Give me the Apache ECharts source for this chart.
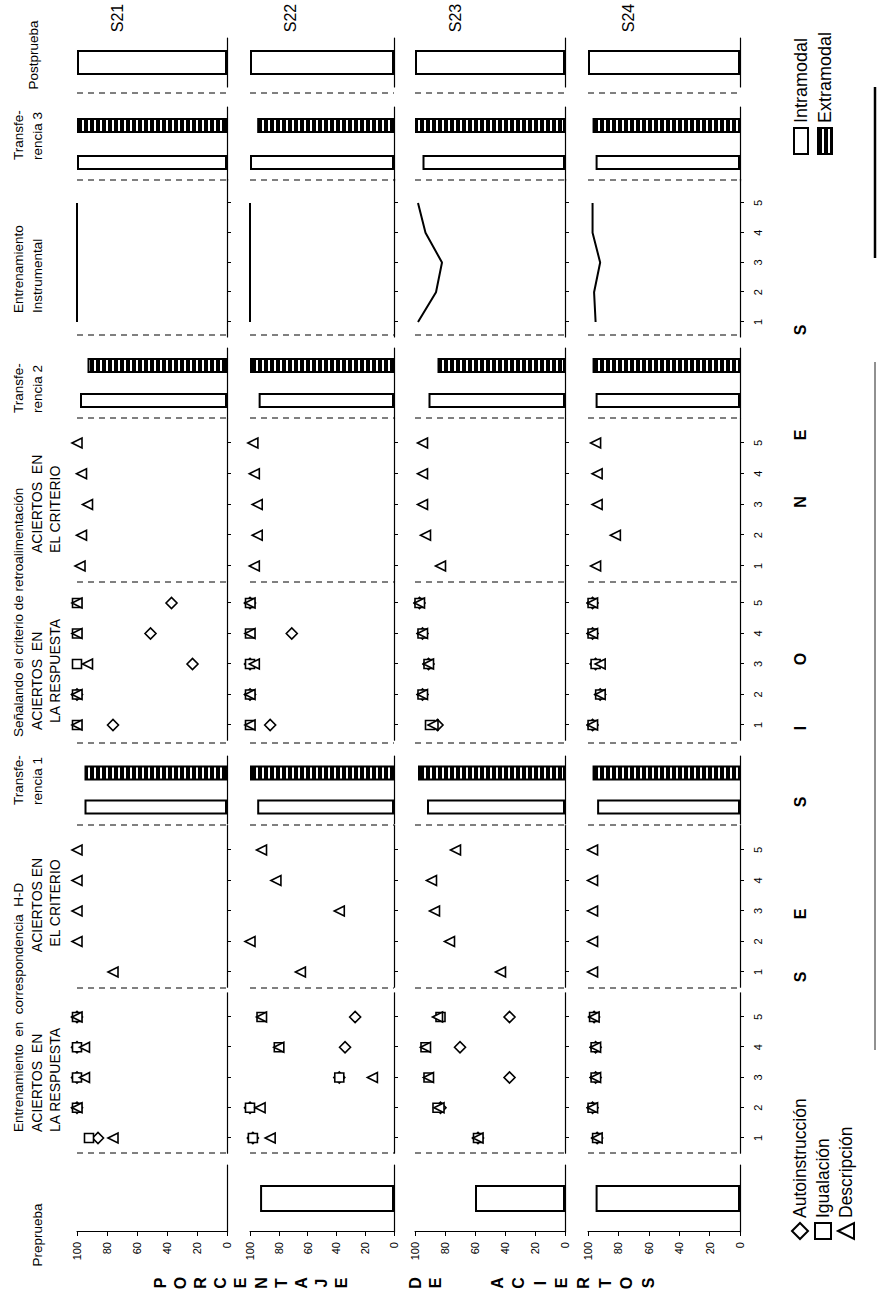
<!DOCTYPE html>
<html><head><meta charset="utf-8">
<script src="https://cdn.jsdelivr.net/npm/echarts@6/dist/echarts.min.js"></script>
<style>
html,body{margin:0;padding:0;background:#fff;overflow:hidden;width:877px;height:1299px}
#c{position:absolute;left:0;top:0;width:1299px;height:877px;transform-origin:0 0;transform:translate(0,1299px) rotate(-90deg);}
</style></head><body><div id="c"></div>
<script>
// ---------------- DATA ----------------
const subjects = ['S21', 'S22', 'S23', 'S24'];
const sessions = [1, 2, 3, 4, 5];
const yTicks = [0, 20, 40, 60, 80, 100];
const seriesNames = ['Autoinstrucción', 'Igualación', 'Descripción'];
const barNames = ['Intramodal', 'Extramodal'];

const preprueba = [0, 93, 60, 95];
const postprueba = [100, 100, 100, 100];
const transf1Intra = [95, 95, 92, 94];
const transf1Extra = [95, 100, 98, 97];
const transf2Intra = [98, 94, 91, 95];
const transf2Extra = [93, 100, 85, 97];
const transf3Intra = [100, 100, 95, 95];
const transf3Extra = [100, 95, 100, 97];

// Entrenamiento en correspondencia H-D, aciertos en la respuesta
const hdRespAuto = [[86, 100, 100, 100, 100], [98, 100, 38, 34, 27], [58, 83, 37, 70, 37], [94, 97, 95, 95, 96]];
const hdRespIgual = [[92, 100, 100, 100, 100], [98, 100, 38, 80, 92], [58, 85, 91, 93, 83], [94, 97, 95, 95, 96]];
const hdRespDesc = [[76, 100, 95, 95, 100], [86, 93, 15, 80, 92], [58, 84, 91, 93, 85], [94, 97, 95, 95, 96]];
// Entrenamiento en correspondencia H-D, aciertos en el criterio
const hdCritDesc = [[76, 100, 100, 100, 100], [65, 100, 38, 82, 92], [43, 77, 87, 89, 73], [97, 97, 97, 97, 97]];
// Señalando el criterio de retroalimentación, aciertos en la respuesta
const scRespAuto = [[76, 100, 23, 51, 37], [86, 100, 100, 71, 100], [85, 95, 91, 95, 97], [97, 92, 95, 97, 97]];
const scRespIgual = [[100, 100, 100, 100, 100], [100, 100, 100, 100, 100], [90, 95, 91, 95, 97], [97, 92, 95, 97, 97]];
const scRespDesc = [[100, 100, 93, 100, 100], [100, 100, 97, 100, 100], [88, 95, 91, 95, 97], [97, 92, 92, 97, 97]];
// Señalando el criterio, aciertos en el criterio
const scCritDesc = [[98, 97, 93, 97, 100], [97, 95, 95, 97, 98], [83, 93, 95, 95, 95], [95, 82, 94, 94, 95]];
// Entrenamiento instrumental
const instrumental = [[100, 100, 100, 100, 100], [100, 100, 100, 100, 100], [98, 86, 82, 93, 98], [95, 96, 92, 97, 97]];

const sesionesLetters = ['S', 'E', 'S', 'I', 'O', 'N', 'E', 'S'];
const yNameWords = ['PORCENTAJE', 'DE', 'ACIERTOS'];

// ---------------- LAYOUT (chart drawn landscape, page rotated) ----------------
const FONT = '"Liberation Sans", Arial, Helvetica, sans-serif';
const rowTop = [77, 250, 415, 588];
const rowBot = [227, 394, 565, 740];
const phaseLines = [146, 311, 474, 556, 717, 881, 964, 1119, 1206];
const cols = [
  {kind: 'bar1', left: 67, right: 134, barW: 27, vals: preprueba},
  {kind: 'scatter', x1: 161, s: 30.25, max: 5.8, sets: [hdRespAuto, hdRespIgual, hdRespDesc]},
  {kind: 'scatter', x1: 327, s: 30.5, max: 5.8, sets: [null, null, hdCritDesc]},
  {kind: 'bar2', left: 475, right: 543, vals: [transf1Intra, transf1Extra]},
  {kind: 'scatter', x1: 574, s: 30.5, max: 5.7, sets: [scRespAuto, scRespIgual, scRespDesc]},
  {kind: 'scatter', x1: 733, s: 30.75, max: 5.8, sets: [null, null, scCritDesc]},
  {kind: 'bar2', left: 881, right: 951, vals: [transf2Intra, transf2Extra]},
  {kind: 'line', x1: 977, s: 29.75, max: 5.8, vals: instrumental},
  {kind: 'bar2', left: 1118, right: 1192, vals: [transf3Intra, transf3Extra]},
  {kind: 'bar1', left: 1212, right: 1261, barW: 25, vals: postprueba}
];

const pc = document.createElement('canvas');
pc.width = 4; pc.height = 6;
const pctx = pc.getContext('2d');
pctx.fillStyle = '#fff'; pctx.fillRect(0, 0, 4, 6);
pctx.fillStyle = '#000'; pctx.fillRect(0, 0, 4, 4);
const hatch = {image: pc, repeat: 'repeat'};

const symbols = ['diamond', 'rect', 'triangle'];
const symSizes = [11, 9, 10];

const grid = [], xAxis = [], yAxis = [], series = [];
const black = '#000';
const barVal = v => (v > 0 ? v : '-');

subjects.forEach((sub, r) => {
  cols.forEach((c, ci) => {
    const gi = grid.length;
    let L, R;
    if (c.kind === 'scatter' || c.kind === 'line') {
      L = c.x1 - 0.5 * c.s; R = L + (c.max - 0.5) * c.s;
    } else { L = c.left; R = c.right; }
    grid.push({left: L, width: R - L, top: rowTop[r], height: rowBot[r] - rowTop[r]});
    yAxis.push({
      gridIndex: gi, type: 'value', min: 0, max: 100, interval: 20,
      show: ci === 0,
      axisLine: {show: true, lineStyle: {color: black, width: 1}},
      axisTick: {show: true, length: 4, lineStyle: {color: black}},
      axisLabel: {color: black, fontSize: 11, fontFamily: FONT, margin: 10},
      splitLine: {show: false}
    });
    if (c.kind === 'scatter' || c.kind === 'line') {
      xAxis.push({
        gridIndex: gi, type: 'value', min: 0.5, max: c.max,
        axisLine: {show: true, onZero: false, lineStyle: {color: black, width: 1.2}},
        axisTick: {show: true, length: 4, customValues: sessions, lineStyle: {color: black}},
        axisLabel: {show: r === 3, customValues: sessions, color: black, fontSize: 11, fontFamily: FONT, margin: 12},
        splitLine: {show: false}
      });
      if (c.kind === 'line') {
        series.push({
          type: 'line', xAxisIndex: gi, yAxisIndex: gi, symbol: 'none', silent: true,
          lineStyle: {color: black, width: 2},
          data: sessions.map((s, k) => [s, c.vals[r][k]])
        });
      } else {
        c.sets.forEach((set, k) => {
          if (!set) return;
          series.push({
            name: seriesNames[k], type: 'scatter', xAxisIndex: gi, yAxisIndex: gi,
            symbol: symbols[k], symbolSize: symSizes[k],
            itemStyle: {color: '#fff', borderColor: black, borderWidth: 1.6, opacity: 1},
            data: sessions.map((s, j) => [s, set[r][j]])
          });
        });
      }
    } else if (c.kind === 'bar1') {
      xAxis.push({
        gridIndex: gi, type: 'category', data: [''],
        axisLine: {show: true, lineStyle: {color: black, width: 1.2}},
        axisTick: {show: false}, axisLabel: {show: false}
      });
      series.push({
        type: 'bar', xAxisIndex: gi, yAxisIndex: gi, barWidth: c.barW, silent: true,
        itemStyle: {color: '#fff', borderColor: black, borderWidth: 2},
        data: [barVal(c.vals[r])]
      });
    } else {
      xAxis.push({
        gridIndex: gi, type: 'category', data: barNames,
        axisLine: {show: true, lineStyle: {color: black, width: 1.2}},
        axisTick: {show: false}, axisLabel: {show: false}
      });
      barNames.forEach((bn, k) => {
        series.push({
          name: bn, type: 'bar', xAxisIndex: gi, yAxisIndex: gi, barWidth: 15, barGap: '-100%',
          itemStyle: {color: k === 0 ? '#fff' : hatch, borderColor: black, borderWidth: 2},
          data: barNames.map((_, j) => j === k ? barVal(c.vals[k][r]) : '-')
        });
      });
    }
  });
});

// ---------------- TEXTS & SEPARATORS ----------------
const graphic = [];
function txt(text, x, y, size, align, extra) {
  graphic.push({
    type: 'text', x: x, y: y, silent: true,
    style: Object.assign({text: text, fill: black, fontSize: size, fontFamily: FONT,
      align: align || 'left', textAlign: align || 'left', verticalAlign: 'middle', textVerticalAlign: 'middle'}, extra || {})
  });
}
subjects.forEach((sub, r) => {
  phaseLines.forEach(u => {
    graphic.push({type: 'line', silent: true,
      shape: {x1: u, y1: rowTop[r], x2: u, y2: rowBot[r]},
      style: {stroke: black, lineWidth: 1, lineDash: [6, 5]}});
  });
  txt(sub, 1281, rowTop[r] + 40, 16, 'center');
});
// page edge line of the scanned sheet
graphic.push({type: 'line', silent: true, shape: {x1: 249, y1: 875, x2: 937, y2: 875}, style: {stroke: '#222', lineWidth: 1}});
graphic.push({type: 'line', silent: true, shape: {x1: 1041, y1: 875, x2: 1212, y2: 875}, style: {stroke: '#000', lineWidth: 2.5}});

const HS = 13.5, AS = 14;
txt('Preprueba', 64, 37, HS, 'center');
txt('Entrenamiento  en  correspondencia  H-D', 167, 18, HS);
txt('ACIERTOS  EN', 167, 37, AS);
txt('LA RESPUESTA', 167, 55, AS);
txt('ACIERTOS EN', 394, 37, AS, 'center');
txt('EL CRITERIO', 396, 55, AS, 'center');
txt('Transfe-', 494, 18, HS);
txt('rencia 1', 494, 37, HS);
txt('Señalando el criterio de retroalimentación', 562, 18, HS);
txt('ACIERTOS  EN', 569, 37, AS);
txt('LA RESPUESTA', 576, 55, AS);
txt('ACIERTOS  EN', 746, 37, AS);
txt('EL CRITERIO', 746, 55, AS);
txt('Transfe-', 886, 18, HS);
txt('rencia 2', 886, 37, HS);
txt('Entrenamiento', 986, 18, HS);
txt('Instrumental', 986, 37, HS);
txt('Transfe-', 1139, 18, HS);
txt('rencia 3', 1139, 37, HS);
txt('Postprueba', 1244, 33, HS, 'center');

// vertical axis name, stacked letters
const yNameStart = [160, 415, 497], yNameStep = [20.2, 20, 21.6];
yNameWords.forEach((w, i) => {
  w.split('').forEach((ch, j) => txt(ch, 16, yNameStart[i] + j * yNameStep[i], 16, 'center', {fontWeight: 'bold'}));
});
const sesU = [322, 385, 497, 571, 640, 797, 864, 969];
sesionesLetters.forEach((ch, i) => txt(ch, sesU[i], 800, 16, 'center', {fontWeight: 'bold'}));

const chart = echarts.init(document.getElementById('c'), null, {renderer: 'svg', width: 1299, height: 877});
chart.setOption({
  backgroundColor: '#fff',
  animation: false,
  grid, xAxis, yAxis, series, graphic,
  legend: [
    {data: seriesNames, left: 54, top: 786, orient: 'vertical', itemGap: 5, itemWidth: 16, itemHeight: 16,
      textStyle: {color: black, fontSize: 17.5, fontFamily: FONT}, selectedMode: false},
    {data: barNames.map(n => ({name: n, icon: 'rect'})), left: 1139, top: 787, orient: 'vertical', itemGap: 6, itemWidth: 26, itemHeight: 14,
      textStyle: {color: black, fontSize: 18, fontFamily: FONT}, selectedMode: false}
  ]
});
</script></body></html>
